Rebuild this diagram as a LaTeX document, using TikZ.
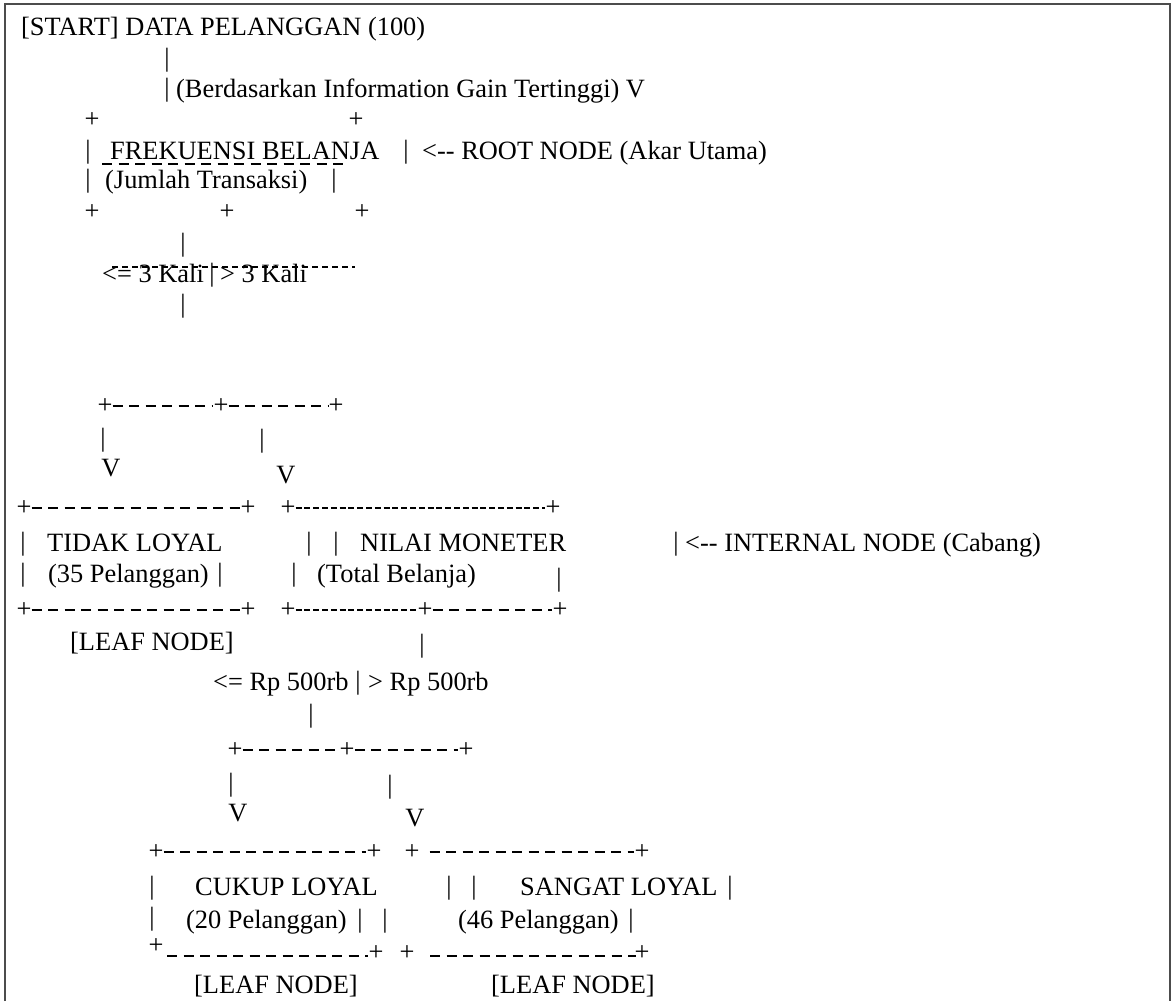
\documentclass[tikz,border=0pt]{standalone}
\usepackage{fontspec}
\setmainfont{Liberation Serif}[Ligatures=TeXOff]
\usepackage{tikz}

\begin{document}
\begin{tikzpicture}[x=1pt,y=-1pt,
    txt/.style={anchor=base west,inner sep=0pt,font=\fontsize{26.4}{30}\selectfont},
    glyph/.style={anchor=center,inner sep=0pt,font=\fontsize{26.4}{30}\selectfont},
    widedash/.style={line width=1.8pt,dash pattern=on 10pt off 6.5pt},
    densedash/.style={line width=1.5pt,dash pattern=on 6pt off 2.8pt},
    framed/.style={line width=1.4pt,draw=black!70}]
    \useasboundingbox (0,0) rectangle (1174,1001);

    % Frame
    \coordinate (fBL) at (5,1001);
    \coordinate (fTL) at (5,4);
    \coordinate (fTR) at (1170,4);
    \coordinate (fBR) at (1170,1001);
    \draw[framed] (fBL) -- (fTL) -- (fTR) -- (fBR);

    % Root node
    \node[txt] (start) at (21,35) {[START] DATA PELANGGAN (100)};
    \node[txt] (gain) at (176,97) {(Berdasarkan Information Gain Tertinggi) V};
    \node[glyph] (rootTL) at (92,120) {+};
    \node[glyph] (rootTR) at (356,120) {+};
    \node[txt] (frek) at (110,159) {FREKUENSI BELANJA};
    \node[txt] (rootlbl) at (422,159) {<-- ROOT NODE (Akar Utama)};
    \node[txt] (jumlah) at (105,188) {(Jumlah Transaksi)};
    \node[glyph] (rootBL) at (92,212) {+};
    \node[glyph] (rootBM) at (227,212) {+};
    \node[glyph] (rootBR) at (362,212) {+};
    \coordinate (ulA) at (102,164);
    \coordinate (ulB) at (343,164);
    \draw[widedash] (ulA) -- (ulB);

    % First split
    \node[txt] (kurang) at (102,282) {<= 3 Kali};
    \node[txt] (lebih) at (220,282) {> 3 Kali};
    \coordinate (kaliA) at (112,267);
    \coordinate (kaliB) at (355,267);
    \draw[line width=1.2pt,dash pattern=on 6pt off 4pt] (kaliA) -- (kaliB);
    \node[glyph] (splitA) at (105,406) {+};
    \node[glyph] (splitB) at (221,406) {+};
    \node[glyph] (splitC) at (336,406) {+};
    \draw[widedash] (splitA) -- (splitB) -- (splitC);
    \node[glyph] (vA) at (111,468) {V};
    \node[glyph] (vB) at (286,475) {V};

    % Tidak loyal and nilai moneter
    \node[glyph] (tlTL) at (24,508) {+};
    \node[glyph] (tlTR) at (248,508) {+};
    \node[glyph] (nmTL) at (288,508) {+};
    \node[glyph] (nmTR) at (553,508) {+};
    \draw[widedash] (tlTL) -- (tlTR);
    \draw[densedash] (nmTL) -- (nmTR);
    \node[txt] (tidak) at (47,551) {TIDAK LOYAL};
    \node[txt] (nilai) at (360,551) {NILAI MONETER};
    \node[txt] (intlbl) at (685,551) {<-- INTERNAL NODE (Cabang)};
    \node[txt] (tidakN) at (48,582) {(35 Pelanggan)};
    \node[txt] (total) at (317,582) {(Total Belanja)};
    \node[glyph] (tlBL) at (24,610) {+};
    \node[glyph] (tlBR) at (248,610) {+};
    \node[glyph] (nmBL) at (288,610) {+};
    \node[glyph] (nmBM) at (425,610) {+};
    \node[glyph] (nmBR) at (560,610) {+};
    \draw[widedash] (tlBL) -- (tlBR);
    \draw[densedash] (nmBL) -- (nmBM);
    \draw[widedash] (nmBM) -- (nmBR);
    \node[txt] (leafA) at (70,650) {[LEAF NODE]};

    % Second split
    \node[txt] (rpA) at (213,690) {<= Rp 500rb};
    \node[txt] (rpB) at (368,690) {> Rp 500rb};
    \node[glyph] (splitD) at (235,750) {+};
    \node[glyph] (splitE) at (347,750) {+};
    \node[glyph] (splitF) at (466,750) {+};
    \draw[widedash] (splitD) -- (splitE) -- (splitF);
    \node[glyph] (vC) at (238,813) {V};
    \node[glyph] (vD) at (415,818) {V};

    % Cukup loyal and sangat loyal
    \node[glyph] (clTL) at (156,852) {+};
    \node[glyph] (clTR) at (374,852) {+};
    \node[glyph] (slTL) at (412,852) {+};
    \node[glyph] (slTR) at (642,852) {+};
    \draw[widedash] (clTL) -- (clTR);
    \draw[widedash,shorten <=10pt] (slTL) -- (slTR);
    \node[txt] (cukup) at (195,895) {CUKUP LOYAL};
    \node[txt] (sangat) at (520,895) {SANGAT LOYAL};
    \node[txt] (cukupN) at (186,928) {(20 Pelanggan)};
    \node[txt] (sangatN) at (458,928) {(46 Pelanggan)};
    \node[glyph] (clBL) at (156,946) {+};
    \node[glyph] (clBR) at (376,953) {+};
    \node[glyph] (slBL) at (407,953) {+};
    \node[glyph] (slBR) at (642,953) {+};
    \coordinate (clLow) at (167,956);
    \coordinate (clLowEnd) at (368,956);
    \coordinate (slLow) at (430,956);
    \coordinate (slLowEnd) at (636,956);
    \draw[widedash] (clLow) -- (clLowEnd);
    \draw[widedash] (slLow) -- (slLowEnd);
    \node[txt] (leafB) at (194,993) {[LEAF NODE]};
    \node[txt] (leafC) at (491,993) {[LEAF NODE]};

    % Vertical bars
    \foreach \x/\y [count=\i] in {167/60, 167/90, 88/152, 406/152, 88/181, 334/181,
        183/245, 212/275, 183/306, 103/440, 262/441,
        23/544, 309/544, 336/544, 676/544, 23/575, 220/575, 294/575, 559/580,
        422/646, 358/683, 311/716, 231/785, 390/787,
        152/888, 449/888, 474/888, 730/888, 152/919, 360/921, 385/921, 631/921} {
        \node[glyph] (bar\i) at (\x,\y) {|};
    }
\end{tikzpicture}
\end{document}
